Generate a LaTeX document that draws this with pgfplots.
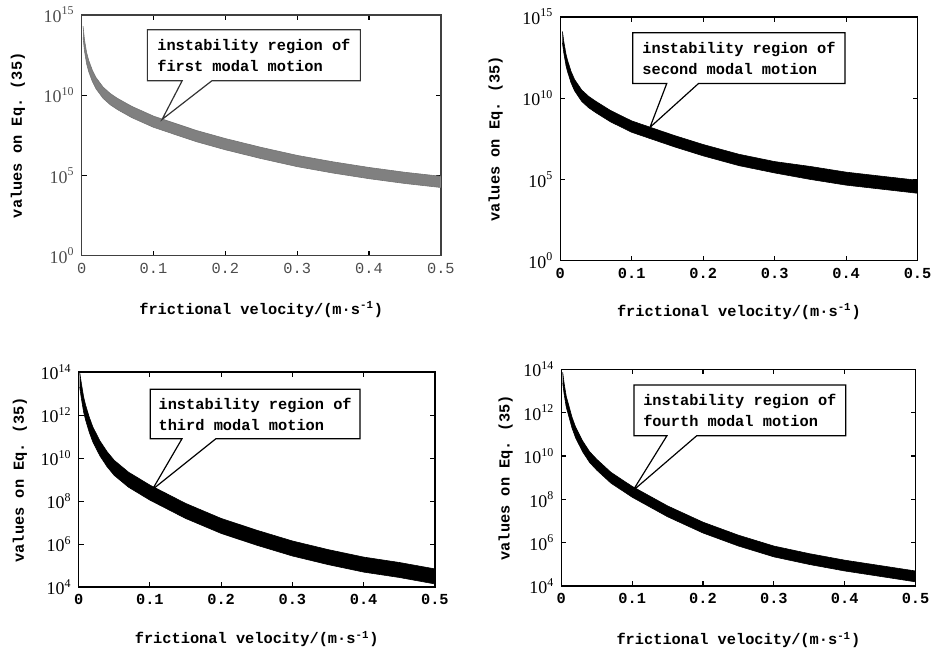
\documentclass[border=0pt]{standalone}
\usepackage{fontspec}
\setmainfont{Liberation Serif}
\setmonofont{Liberation Mono}
\usepackage{pgfplots}
\pgfplotsset{compat=1.18}
\usepgfplotslibrary{fillbetween}
\usepackage{pgfplotstable}

\newcommand\lab{\fontsize{7.7}{10.5}\selectfont\ttfamily\bfseries}

\pgfplotstableread{
x up lo
0.002 2.00e14 3.98e13
0.004 2.82e13 5.62e12
0.007 4.47e12 8.91e11
0.01 1.41e12 2.82e11
0.015 3.55e11 7.08e10
0.02 1.26e11 2.51e10
0.03 3.16e10 6.31e9
0.04 1.26e10 2.51e9
0.05 6.31e9 1.26e9
0.07 2.00e9 3.98e8
0.1 5.01e8 1.00e8
0.13 1.78e8 3.55e7
0.16 6.31e7 1.26e7
0.2 2.00e7 3.98e6
0.25 5.62e6 1.12e6
0.3 1.78e6 3.55e5
0.35 7.08e5 1.41e5
0.4 3.16e5 6.31e4
0.45 1.58e5 3.16e4
0.5 8.91e4 1.78e4
}\bandA

\pgfplotstableread{
x up lo
0.003 1.26e14 2.51e13
0.005 2.82e13 5.62e12
0.008 5.01e12 1.00e12
0.01 2.24e12 4.47e11
0.015 4.47e11 8.91e10
0.02 1.41e11 2.82e10
0.03 3.16e10 6.31e9
0.04 1.26e10 2.51e9
0.05 6.31e9 1.26e9
0.07 1.78e9 3.55e8
0.1 3.98e8 7.94e7
0.13 1.41e8 2.82e7
0.16 5.01e7 1.00e7
0.2 1.41e7 2.82e6
0.25 3.55e6 7.08e5
0.3 1.26e6 2.51e5
0.35 6.31e5 1.00e5
0.4 2.82e5 4.47e4
0.45 1.58e5 2.51e4
0.5 8.91e4 1.41e4
}\bandB

\pgfplotstableread{
x up lo
0.0015 1.00e14 2.00e13
0.004 2.82e13 5.62e12
0.007 7.08e12 1.41e12
0.01 2.82e12 5.62e11
0.015 7.94e11 1.58e11
0.02 2.82e11 5.62e10
0.03 6.31e10 1.26e10
0.04 2.00e10 3.98e9
0.05 7.94e9 1.58e9
0.07 2.24e9 4.47e8
0.1 5.62e8 1.12e8
0.15 7.94e7 1.58e7
0.2 1.58e7 3.16e6
0.25 4.47e6 8.91e5
0.3 1.41e6 2.82e5
0.35 5.62e5 1.12e5
0.4 2.51e5 5.01e4
0.45 1.41e5 2.82e4
0.5 7.08e4 1.41e4
}\bandC

\pgfplotstableread{
x up lo
0.002 7.08e13 2.24e13
0.004 2.24e13 7.08e12
0.007 5.62e12 1.78e12
0.01 2.51e12 7.94e11
0.015 6.31e11 2.00e11
0.02 2.24e11 7.08e10
0.03 5.01e10 1.58e10
0.04 1.58e10 5.01e9
0.05 7.08e9 2.24e9
0.07 1.78e9 5.62e8
0.1 3.98e8 1.26e8
0.15 5.01e7 1.58e7
0.2 8.91e6 2.82e6
0.25 2.24e6 7.08e5
0.3 7.08e5 2.24e5
0.35 3.16e5 1.00e5
0.4 1.58e5 5.01e4
0.45 8.91e4 2.82e4
0.5 5.01e4 1.58e4
}\bandD

\pgfplotsset{mypanel/.style={
  scale only axis, xmin=0, xmax=0.5,
  tick align=inside, major tick length=2.5pt,
  xtick={0,0.1,0.2,0.3,0.4,0.5},
  xticklabels={0,0.1,0.2,0.3,0.4,0.5},
  xticklabel style={font=\lab},
  yticklabel style={font=\fontsize{9}{10}\selectfont},
  yminorticks=false, xminorticks=false,
  axis line style={line width=0.7pt},
  every tick/.style={line width=0.6pt, black},
  xlabel={frictional velocity/(m·s\textsuperscript{-1})},
  ylabel={values on Eq. (35)},
  label style={font=\lab},
  clip=false,
}}

\begin{document}
\begin{tikzpicture}

% Panel 1
\begin{axis}[ymode=log, mypanel, at={(41pt,199pt)}, anchor=south west,
  width=180.5pt, height=121pt,
  ymin=1, ymax=1e15, ytick={1,1e5,1e10,1e15},
  yticklabels={10\textsuperscript{0},10\textsuperscript{5},10\textsuperscript{10},10\textsuperscript{15}},
  axis line style={line width=0.7pt, black!75},
  xticklabel style={font=\fontsize{7.7}{9}\selectfont\ttfamily, black!70},
  yticklabel style={black!70},
  xlabel style={at={(axis description cs:0.5,-0.223)}, anchor=center},
  ylabel style={at={(axis description cs:-0.177,0.5)}, anchor=center}]
\addplot[name path=u1, draw=black!55, line width=0.3pt] table[x=x,y=up]{\bandA};
\addplot[name path=l1, draw=black!55, line width=0.3pt] table[x=x,y=lo]{\bandA};
\addplot[fill=black!50] fill between[of=u1 and l1];
\filldraw[fill=white, draw=black!80, line width=0.6pt]
  (rel axis cs:0.183,0.727) -- (rel axis cs:0.28,0.727) -- (rel axis cs:0.224,0.566)
  -- (rel axis cs:0.363,0.727) -- (rel axis cs:0.776,0.727) -- (rel axis cs:0.776,0.938)
  -- (rel axis cs:0.183,0.938) -- cycle;
\node[font=\lab, align=left, inner sep=0pt] at (rel axis cs:0.4795,0.8325) {instability region of\\first modal motion};
\end{axis}

% Panel 2
\begin{axis}[ymode=log, mypanel, at={(281.5pt,196.5pt)}, anchor=south west,
  width=179.5pt, height=122.5pt,
  ymin=1, ymax=1e15, ytick={1,1e5,1e10,1e15},
  yticklabels={10\textsuperscript{0},10\textsuperscript{5},10\textsuperscript{10},10\textsuperscript{15}},
  xlabel style={at={(axis description cs:0.5,-0.208)}, anchor=center},
  ylabel style={at={(axis description cs:-0.181,0.5)}, anchor=center}]
\addplot[name path=u2, draw=black, line width=0.3pt] table[x=x,y=up]{\bandB};
\addplot[name path=l2, draw=black, line width=0.3pt] table[x=x,y=lo]{\bandB};
\addplot[fill=black] fill between[of=u2 and l2];
\filldraw[fill=white, draw=black, line width=0.6pt]
  (rel axis cs:0.203,0.727) -- (rel axis cs:0.298,0.727) -- (rel axis cs:0.251,0.547)
  -- (rel axis cs:0.387,0.727) -- (rel axis cs:0.797,0.727) -- (rel axis cs:0.797,0.935)
  -- (rel axis cs:0.203,0.935) -- cycle;
\node[font=\lab, align=left, inner sep=0pt] at (rel axis cs:0.5,0.831) {instability region of\\second modal motion};
\end{axis}

% Panel 3
\begin{axis}[ymode=log, mypanel, at={(39.5pt,32.5pt)}, anchor=south west,
  width=179pt, height=108pt,
  ymin=1e4, ymax=1e14, ytick={1e4,1e6,1e8,1e10,1e12,1e14},
  yticklabels={10\textsuperscript{4},10\textsuperscript{6},10\textsuperscript{8},10\textsuperscript{10},10\textsuperscript{12},10\textsuperscript{14}},
  xlabel style={at={(axis description cs:0.5,-0.241)}, anchor=center},
  ylabel style={at={(axis description cs:-0.165,0.5)}, anchor=center}]
\addplot[name path=u3, draw=black, line width=0.3pt] table[x=x,y=up]{\bandC};
\addplot[name path=l3, draw=black, line width=0.3pt] table[x=x,y=lo]{\bandC};
\addplot[fill=black] fill between[of=u3 and l3];
\filldraw[fill=white, draw=black, line width=0.6pt]
  (rel axis cs:0.201,0.69) -- (rel axis cs:0.29,0.69) -- (rel axis cs:0.207,0.454)
  -- (rel axis cs:0.385,0.69) -- (rel axis cs:0.79,0.69) -- (rel axis cs:0.79,0.921)
  -- (rel axis cs:0.201,0.921) -- cycle;
\node[font=\lab, align=left, inner sep=0pt] at (rel axis cs:0.4955,0.8055) {instability region of\\third modal motion};
\end{axis}

% Panel 4
\begin{axis}[ymode=log, mypanel, at={(282pt,33pt)}, anchor=south west,
  width=178pt, height=109pt,
  ymin=1e4, ymax=1e14, ytick={1e4,1e6,1e8,1e10,1e12,1e14},
  yticklabels={10\textsuperscript{4},10\textsuperscript{6},10\textsuperscript{8},10\textsuperscript{10},10\textsuperscript{12},10\textsuperscript{14}},
  xlabel style={at={(axis description cs:0.5,-0.248)}, anchor=center},
  ylabel style={at={(axis description cs:-0.157,0.5)}, anchor=center}]
\addplot[name path=u4, draw=black, line width=0.3pt] table[x=x,y=up]{\bandD};
\addplot[name path=l4, draw=black, line width=0.3pt] table[x=x,y=lo]{\bandD};
\addplot[fill=black] fill between[of=u4 and l4];
\filldraw[fill=white, draw=black, line width=0.6pt]
  (rel axis cs:0.205,0.693) -- (rel axis cs:0.298,0.693) -- (rel axis cs:0.202,0.44)
  -- (rel axis cs:0.382,0.693) -- (rel axis cs:0.803,0.693) -- (rel axis cs:0.803,0.927)
  -- (rel axis cs:0.205,0.927) -- cycle;
\node[font=\lab, align=left, inner sep=0pt] at (rel axis cs:0.504,0.81) {instability region of\\fourth modal motion};
\end{axis}
\path (0,0) rectangle (469pt,327.5pt);
\end{tikzpicture}
\end{document}
